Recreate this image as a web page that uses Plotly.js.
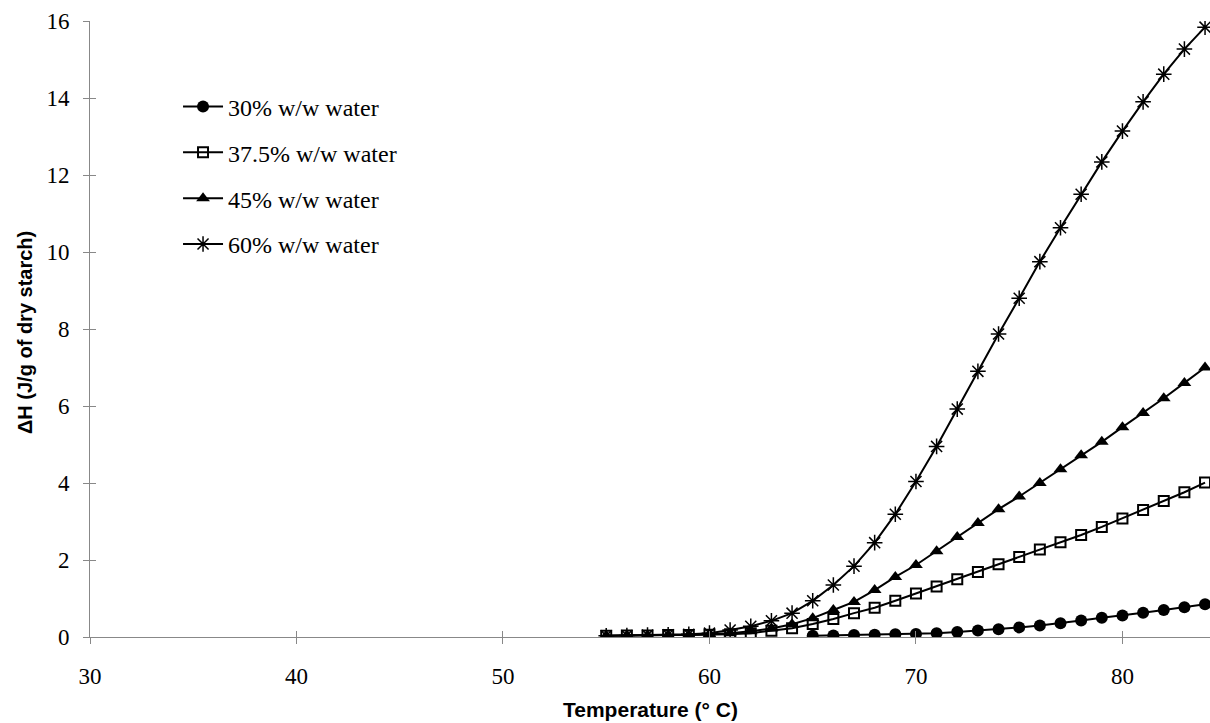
<!DOCTYPE html>
<html>
<head>
<meta charset="utf-8">
<script src="https://cdn.plot.ly/plotly-3.0.1.min.js"></script>
<style>
html,body{margin:0;padding:0;background:#fff;}
#chart{width:1210px;height:723px;}
#chart .xtick text, #chart .ytick text{font-family:"Liberation Serif","Times New Roman",serif !important;font-size:23px !important;fill:#000 !important;}
</style>
</head>
<body>
<div id="chart"></div>
<script>
var temps = [55,56,57,58,59,60,61,62,63,64,65,66,67,68,69,70,71,72,73,74,75,76,77,78,79,80,81,82,83,84];
var temps30 = [65,66,67,68,69,70,71,72,73,74,75,76,77,78,79,80,81,82,83,84];
var water30 = [0.03,0.04,0.05,0.06,0.07,0.08,0.1,0.13,0.17,0.2,0.25,0.3,0.36,0.43,0.5,0.56,0.63,0.7,0.77,0.85];
var water375 = [0.03,0.04,0.04,0.05,0.05,0.06,0.07,0.1,0.16,0.23,0.34,0.47,0.62,0.76,0.94,1.13,1.31,1.5,1.69,1.89,2.08,2.27,2.46,2.65,2.86,3.08,3.3,3.53,3.76,4.01];
var water45 = [0.03,0.04,0.04,0.05,0.05,0.07,0.1,0.15,0.22,0.33,0.49,0.7,0.91,1.22,1.56,1.87,2.23,2.6,2.96,3.32,3.65,4.0,4.36,4.72,5.07,5.45,5.82,6.2,6.6,7.0];
var water60 = [0.03,0.04,0.05,0.06,0.07,0.1,0.18,0.28,0.42,0.62,0.94,1.35,1.84,2.45,3.19,4.04,4.95,5.92,6.9,7.87,8.8,9.75,10.63,11.5,12.34,13.14,13.9,14.62,15.27,15.84];
var seriesNames = ['30% w/w water','37.5% w/w water','45% w/w water','60% w/w water'];
var xTicks = [30,40,50,60,70,80];
var yTicks = [0,2,4,6,8,10,12,14,16];
var xTitle = 'Temperature (° C)';
var yTitle = 'ΔH (J/g of dry starch)';

var lineStyle = {color:'#000', width:2};
var traces = [
  {x:temps30, y:water30, name:seriesNames[0], legendgroup:'a', mode:'lines+markers', line:lineStyle,
   marker:{symbol:'circle', size:12, color:'#000'}},
  {x:temps, y:water375, name:seriesNames[1], legendgroup:'b', mode:'lines+markers', line:lineStyle,
   marker:{symbol:'square-open', size:10, color:'#000', line:{width:2, color:'#000'}}},
  {x:temps, y:water45, name:seriesNames[2], legendgroup:'c', mode:'lines+markers', line:lineStyle,
   marker:{symbol:'triangle-up', size:12, color:'#000'}},
  {x:temps, y:water60, name:seriesNames[3], legendgroup:'d', mode:'lines+markers', line:lineStyle,
   marker:{symbol:'asterisk-open', size:13, color:'#000', line:{width:1.5, color:'#000'}}}
];

var xr = [30, 84.24];
var yr = [0, 16];
var serif = 'Liberation Serif';
var sans = 'Liberation Sans';
function tf(){ return {family:serif, size:23, color:'#000'}; }
var layout = {
  width:1210, height:723,
  font:{family:serif, size:23, color:'#000'},
  margin:{l:90, r:0, t:21, b:86},
  paper_bgcolor:'#fff', plot_bgcolor:'#fff',
  showlegend:true,
  legend:{x:0.0786, y:0.897, xanchor:'left', yanchor:'top', bgcolor:'rgba(0,0,0,0)',
          font:{family:serif, size:24, color:'#000'}, itemwidth:40,
          tracegroupgap:11.6, traceorder:'grouped'},
  xaxis:{range:xr, tickvals:xTicks, showgrid:false, zeroline:false,
         showline:true, linecolor:'#888', linewidth:1, ticks:'outside', ticklen:6, tickcolor:'#888',
         tickfont:tf(), ticklabelstandoff:12},
  xaxis2:{range:xr, overlaying:'x', anchor:'y', tickvals:xTicks, showticklabels:false,
          showgrid:false, zeroline:false, showline:false, ticks:'inside', ticklen:6, tickcolor:'#888'},
  yaxis:{range:yr, tickvals:yTicks, showgrid:false, zeroline:false,
         showline:true, linecolor:'#888', linewidth:1, ticks:'outside', ticklen:6, tickcolor:'#888',
         tickfont:tf(), ticklabelstandoff:9},
  yaxis2:{range:yr, overlaying:'y', anchor:'x', tickvals:yTicks, showticklabels:false,
          showgrid:false, zeroline:false, showline:false, ticks:'inside', ticklen:6, tickcolor:'#888'},
  annotations:[
    {text:'<b>' + xTitle + '</b>', xref:'paper', yref:'paper', x:0.5, y:-0.1169, xanchor:'center', yanchor:'middle',
     showarrow:false, font:{family:sans, size:21, color:'#000'}},
    {text:'<b>' + yTitle + '</b>', xref:'paper', yref:'paper', x:-0.058, y:0.4935, xanchor:'center', yanchor:'middle',
     textangle:-90, showarrow:false, font:{family:sans, size:20, color:'#000'}}
  ]
};
// invisible trace that activates the overlay axes used for the crossing tick marks
traces.push({x:[xr[0]], y:[yr[0]], xaxis:'x2', yaxis:'y2', mode:'markers', marker:{opacity:0}, showlegend:false, hoverinfo:'skip'});
Plotly.newPlot('chart', traces, layout, {staticPlot:true, displayModeBar:false});
</script>
</body>
</html>
